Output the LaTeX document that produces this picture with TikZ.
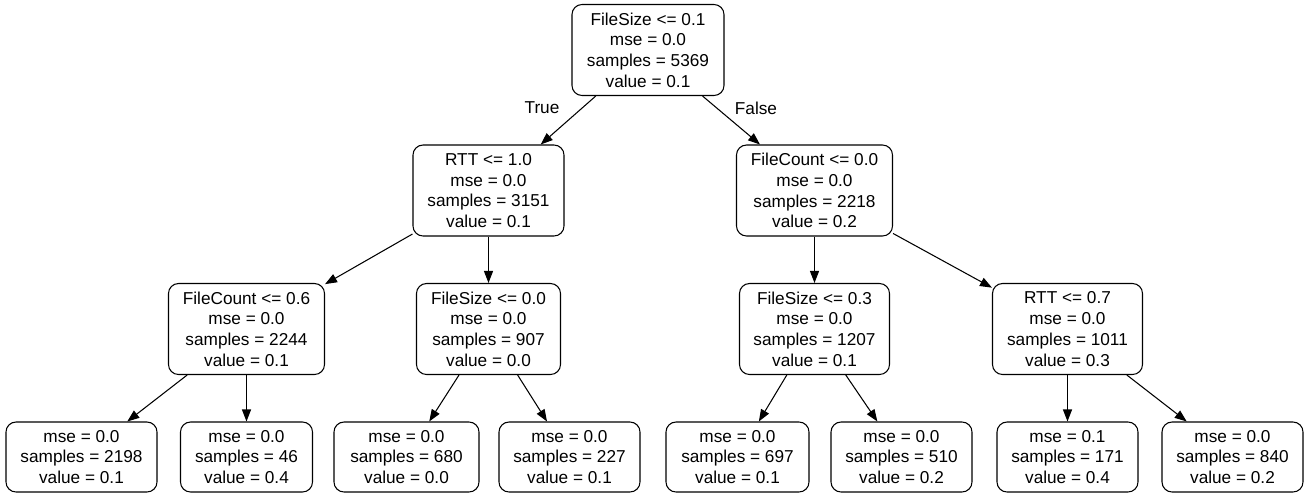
\documentclass[tikz,border=0pt]{standalone}
\usepackage{fontspec}
\setmainfont{Liberation Sans}
\usetikzlibrary{arrows.meta}
\begin{document}
\begin{tikzpicture}
[   x=0.02cm, y=-0.02cm,
    tnode/.style={draw=black,line width=0.6pt,fill=white,rounded corners=0.2cm,align=center,
        font=\fontsize{9.8}{11.8}\selectfont,inner xsep=0pt,inner ysep=0pt,
        minimum width=#1*0.02cm},
    inode/.style={tnode=#1,minimum height=1.82cm},
    leaf/.style={tnode=#1,minimum height=1.4cm},
    edge/.style={line width=0.6pt,-{Triangle[length=0.24cm,width=0.18cm]}},
]
    \useasboundingbox (0,0) rectangle (1309,497);
    %
    \node[inode=152] (root) at (648,50) {FileSize <= 0.1\\mse = 0.0\\samples = 5369\\value = 0.1};
    \node[inode=151] (rtt1) at (488.5,190.5) {RTT <= 1.0\\mse = 0.0\\samples = 3151\\value = 0.1};
    \node[inode=156] (fc0) at (814.5,190.5) {FileCount <= 0.0\\mse = 0.0\\samples = 2218\\value = 0.2};
    \draw[edge] (root) -- (rtt1);
    \draw[edge] (root) -- (fc0);
    \node[font=\fontsize{9.8}{11.8}\selectfont] (true) at (542,108) {True};
    \node[font=\fontsize{9.8}{11.8}\selectfont] (false) at (756,108) {False};

    \node[inode=156] (fc6) at (246.5,329) {FileCount <= 0.6\\mse = 0.0\\samples = 2244\\value = 0.1};
    \node[inode=144] (fs0) at (488.5,329) {FileSize <= 0.0\\mse = 0.0\\samples = 907\\value = 0.0};
    \node[inode=150] (fs3) at (814.5,329) {FileSize <= 0.3\\mse = 0.0\\samples = 1207\\value = 0.1};
    \node[inode=150] (rtt7) at (1067.5,329) {RTT <= 0.7\\mse = 0.0\\samples = 1011\\value = 0.3};
    \draw[edge] (rtt1) -- (fc6);
    \draw[edge] (rtt1) -- (fs0);
    \draw[edge] (fc0) -- (fs3);
    \draw[edge] (fc0) -- (rtt7);

    % leaves
    \node[leaf=151] (l1) at (81.5,457) {mse = 0.0\\samples = 2198\\value = 0.1};
    \node[leaf=132] (l2) at (246.5,457) {mse = 0.0\\samples = 46\\value = 0.4};
    \node[leaf=145] (l3) at (406.5,457) {mse = 0.0\\samples = 680\\value = 0.0};
    \node[leaf=141] (l4) at (569.5,457) {mse = 0.0\\samples = 227\\value = 0.1};
    \node[leaf=143] (l5) at (737.5,457) {mse = 0.0\\samples = 697\\value = 0.1};
    \node[leaf=141] (l6) at (901.5,457) {mse = 0.0\\samples = 510\\value = 0.2};
    \node[leaf=141] (l7) at (1067.5,457) {mse = 0.1\\samples = 171\\value = 0.4};
    \node[leaf=141] (l8) at (1232.5,457) {mse = 0.0\\samples = 840\\value = 0.2};
    \draw[edge] (fc6) -- (l1);
    \draw[edge] (fc6) -- (l2);
    \draw[edge] (fs0) -- (l3);
    \draw[edge] (fs0) -- (l4);
    \draw[edge] (fs3) -- (l5);
    \draw[edge] (fs3) -- (l6);
    \draw[edge] (rtt7) -- (l7);
    \draw[edge] (rtt7) -- (l8);
\end{tikzpicture}
\end{document}
